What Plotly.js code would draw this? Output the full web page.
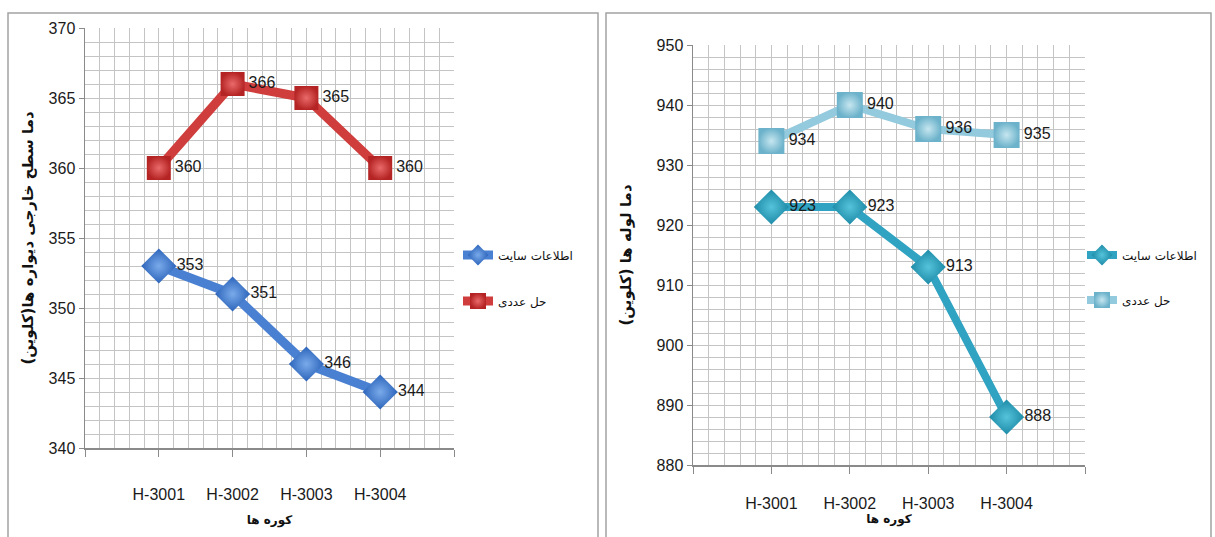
<!DOCTYPE html>
<html>
<head>
<meta charset="utf-8">
<script src="https://cdn.plot.ly/plotly-3.0.1.min.js"></script>
<style>
  html, body { margin: 0; padding: 0; background: #ffffff; }
  #chart { width: 1215px; height: 537px; }
</style>
</head>
<body>
<div id="chart"></div>
<script>
// Furnaces on the category axis
const categories = ['H-3001', 'H-3002', 'H-3003', 'H-3004'];

// Outer wall surface temperature (K)
const wallSite = [353, 351, 346, 344];
const wallNumeric = [360, 366, 365, 360];

// Tube temperature (K)
const tubeSite = [923, 923, 913, 888];
const tubeNumeric = [934, 940, 936, 935];

// Series and axis labels
const seriesNames = ['اطلاعات سایت', 'حل عددی'];
const xTitle = 'کوره ها';
const wallTitle = 'دما سطح خارجی دیواره ها(کلوین)';
const tubeTitle = 'دما لوله ها (کلوین)';

const W = 1215, H = 537;
const px = v => v / W;          // horizontal pixel -> paper
const py = v => 1 - v / H;      // vertical pixel (from top) -> paper

const idx = categories.map((c, i) => i);
const tickVals = [-1].concat(idx, [categories.length]);
const tickText = [''].concat(categories, ['']);

const labelFont = {family: 'Liberation Sans Narrow, Liberation Sans, Arial, sans-serif', size: 16, color: '#1a1a1a'};
const tickFont = {family: 'Liberation Sans Narrow, Liberation Sans, Arial, sans-serif', size: 16, color: '#1a1a1a'};
const faFont = {family: 'DejaVu Sans, Noto Sans, sans-serif', size: 12, color: '#111'};

function series(y, name, xa, ya, legend, edge, center, symbol, size, lineColor, lw) {
  return {
    type: 'scatter', mode: 'lines+markers+text',
    x: idx, y: y, name: name, xaxis: xa, yaxis: ya, legend: legend,
    text: y.map(String), textposition: 'middle right', textfont: labelFont,
    cliponaxis: false,
    line: {color: lineColor, width: lw},
    marker: {symbol: symbol, size: size, color: edge,
             gradient: {type: 'radial', color: center},
             line: {width: 0}},
    hoverinfo: 'skip'
  };
}

const traces = [
  series(wallNumeric, seriesNames[1], 'x', 'y', 'legend2', '#b52424', '#ea6a6a', 'square', 24, '#cf3d3d', 9),
  series(wallSite, seriesNames[0], 'x', 'y', 'legend', '#2c64ba', '#79aaea', 'diamond', 27, '#4a80d2', 9),
  series(tubeNumeric, seriesNames[1], 'x2', 'y2', 'legend4', '#6cb2ca', '#c6e6f0', 'square', 26, '#93cadd', 8),
  series(tubeSite, seriesNames[0], 'x2', 'y2', 'legend3', '#1d8ba7', '#55c3da', 'diamond', 27, '#2fa3c1', 8)
];

const grid = '#c4c4c4';
function xAxis(domain, anchor, standoff, tstandoff) {
  return {
    domain: domain, anchor: anchor, range: [-1, categories.length],
    tickmode: 'array', tickvals: tickVals, ticktext: tickText,
    tickfont: tickFont, ticks: 'outside', ticklen: 7, tickcolor: '#8a8a8a',
    ticklabelstandoff: standoff,
    showgrid: true, gridcolor: grid, gridwidth: 1,
    minor: {dtick: 0.2, tick0: 0, showgrid: true, gridcolor: grid, gridwidth: 1, ticks: ''},
    showline: true, linecolor: '#8a8a8a', linewidth: 1.5,
    zeroline: false, fixedrange: true,
    title: {text: xTitle, font: {family: 'DejaVu Sans, sans-serif', size: 12, color: '#111', weight: 'bold'}, standoff: tstandoff}
  };
}
function yAxis(domain, anchor, range, dtick, minor, title, standoff) {
  return {
    domain: domain, anchor: anchor, range: range,
    dtick: dtick, tick0: range[0], tickfont: tickFont,
    ticks: 'outside', ticklen: 5, tickcolor: '#8a8a8a',
    showgrid: true, gridcolor: grid, gridwidth: 1,
    minor: {dtick: minor, showgrid: true, gridcolor: grid, gridwidth: 1, ticks: ''},
    showline: true, linecolor: '#8a8a8a', linewidth: 1.5,
    zeroline: false, fixedrange: true,
    title: {text: title, font: {family: 'DejaVu Sans, sans-serif', size: 15, color: '#111', weight: 'bold'}, standoff: standoff}
  };
}
function legendAt(x, y) {
  return {x: px(x), y: py(y), xanchor: 'left', yanchor: 'middle',
          bgcolor: 'rgba(0,0,0,0)', font: faFont, itemwidth: 30, tracegroupgap: 0};
}

const layout = {
  width: W, height: H,
  margin: {l: 0, r: 0, t: 0, b: 0, autoexpand: false},
  paper_bgcolor: '#ffffff', plot_bgcolor: '#ffffff',
  showlegend: true,
  xaxis: xAxis([px(85), px(454)], 'y', 24, 14),
  yaxis: yAxis([py(448), py(28)], 'x', [340, 370], 5, 1, wallTitle, 11),
  xaxis2: xAxis([px(693), px(1085)], 'y2', 16, 4),
  yaxis2: yAxis([py(465), py(45)], 'x2', [880, 950], 10, 2, tubeTitle, 21),
  legend: legendAt(458, 255),
  legend2: legendAt(458, 301),
  legend3: legendAt(1082, 255),
  legend4: legendAt(1082, 300),
  shapes: [
    {type: 'rect', xref: 'paper', yref: 'paper', x0: px(8), x1: px(598), y0: py(540), y1: py(13),
     line: {color: '#a3a3a3', width: 1.5}, fillcolor: 'rgba(0,0,0,0)', layer: 'below'},
    {type: 'rect', xref: 'paper', yref: 'paper', x0: px(606), x1: px(1211), y0: py(540), y1: py(13),
     line: {color: '#a3a3a3', width: 1.5}, fillcolor: 'rgba(0,0,0,0)', layer: 'below'}
  ]
};

Plotly.newPlot('chart', traces, layout, {staticPlot: true, displayModeBar: false});
</script>
</body>
</html>
